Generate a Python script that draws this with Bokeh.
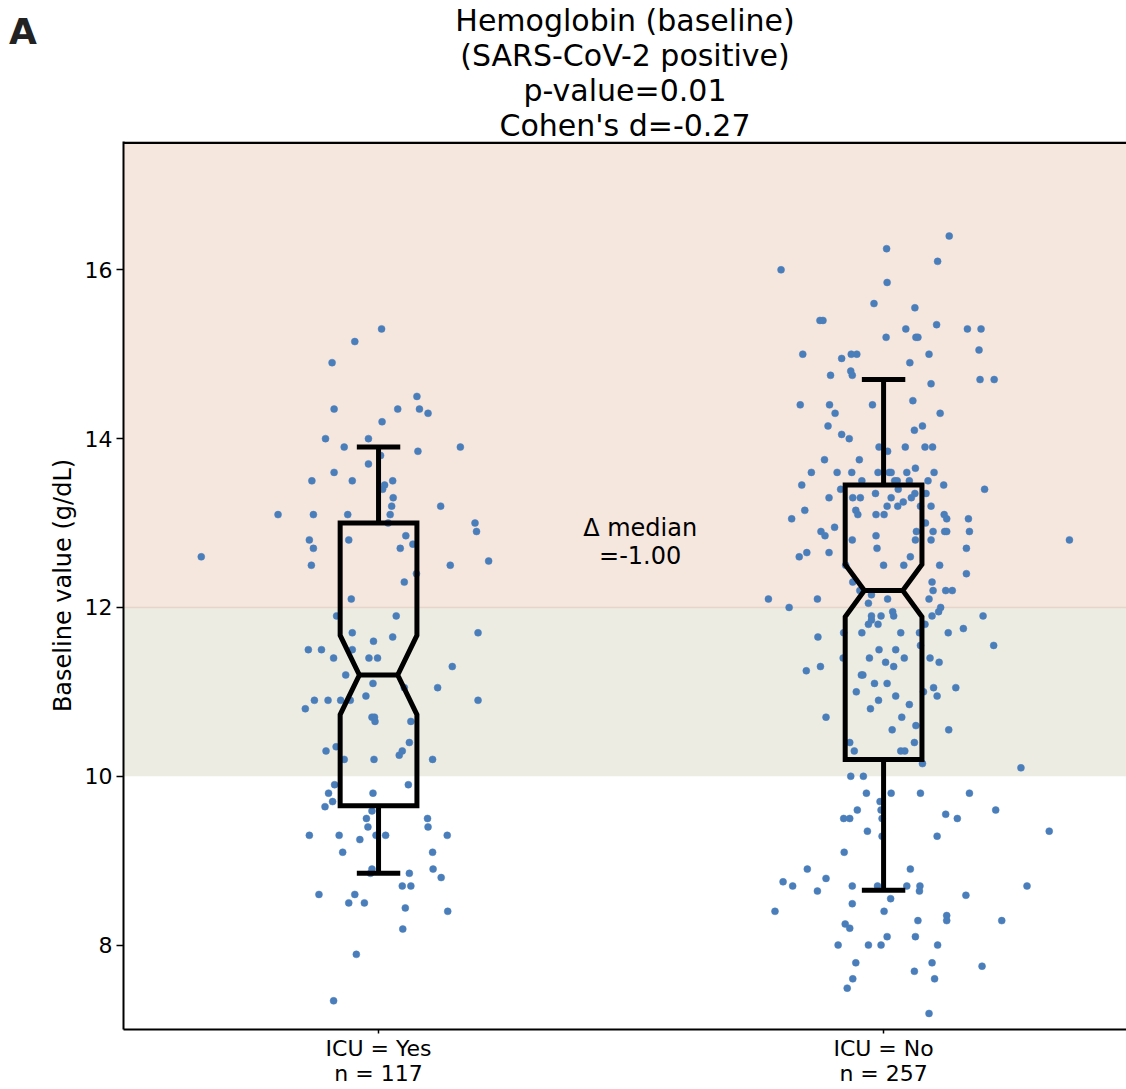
from bokeh.plotting import figure
from bokeh.layouts import row
from bokeh.models import Range1d, FixedTicker, BoxAnnotation, Label, Span, Title, Div
from bokeh.embed import file_html
from bokeh.resources import INLINE

# ---------------- data ----------------
categories = ["ICU = Yes", "ICU = No"]
group_n = [117, 257]
positions = [0, 1]

panel_letter = "A"
title_lines = ["Hemoglobin (baseline)", "(SARS-CoV-2 positive)", "p-value=0.01", "Cohen's d=-0.27"]
y_ticks = [8, 10, 12, 14, 16]

# box statistics (g/dL)
q1 = [9.65, 10.2]
median = [11.2, 12.2]
q3 = [13.0, 13.45]
notch_lo = [10.73, 11.89]
notch_hi = [11.67, 12.51]
whisker_lo = [8.85, 8.65]
whisker_hi = [13.9, 14.7]

# reference bands
band_high_low = 12.0
band_mid_low = 10.0

# jittered observations: value and horizontal jitter (category units)
yes_y = [15.30, 15.15, 14.90, 14.50, 14.35, 14.35, 14.35, 14.30, 14.20, 14.00,
         14.00, 13.90, 13.90, 13.80, 13.85, 13.70, 13.60, 13.50, 13.50, 13.50,
         13.45, 13.40, 13.30, 13.20, 13.20, 13.10, 13.10, 13.10, 13.10, 13.00,
         13.00, 12.90, 12.80, 12.80, 12.85, 12.70, 12.70, 12.75, 12.60, 12.55,
         12.50, 12.50, 12.40, 12.30, 12.10, 11.90, 11.90, 11.70, 11.70, 11.65,
         11.60, 11.50, 11.50, 11.50, 11.40, 11.40, 11.40, 11.30, 11.20, 11.10,
         11.05, 11.05, 10.95, 10.90, 10.90, 10.90, 10.90, 10.90, 10.80, 10.70,
         10.70, 10.65, 10.65, 10.40, 10.35, 10.30, 10.30, 10.25, 10.20, 10.20,
         10.20, 9.90, 9.90, 9.80, 9.80,
         9.70, 9.64, 9.59, 9.50, 9.50, 9.40, 9.40, 9.30, 9.30, 9.30,
         9.30, 9.30, 9.25, 9.10, 9.10, 8.90, 8.85, 8.90, 8.80, 8.70,
         8.70, 8.60, 8.60, 8.50, 8.50, 8.44, 8.40, 8.19, 7.89, 7.34, 8.85]
yes_dx = [0.006, -0.047, -0.092, 0.076, -0.088, 0.038, 0.081, 0.098, 0.007, -0.105,
          -0.020, -0.068, 0.162, 0.004, 0.078, -0.020, -0.088, -0.132, -0.052, 0.028,
          0.012, 0.008, 0.029, 0.026, 0.123, -0.199, -0.129, -0.061, 0.023, 0.019,
          0.191, 0.194, -0.137, -0.059, 0.054, -0.129, 0.043, 0.068, -0.351, 0.218,
          -0.133, 0.142, 0.075, 0.051, -0.054, -0.083, 0.035, 0.197, -0.052, 0.028,
          -0.010, -0.139, -0.113, -0.052, -0.089, -0.019, -0.002, 0.146, -0.065, -0.011,
          0.051, 0.117, -0.025, -0.127, -0.100, -0.075, -0.056, 0.197, -0.145, -0.013,
          -0.008, -0.007, 0.064, 0.061, -0.084, -0.104, 0.047, 0.041, -0.068, -0.009,
          0.107, -0.087, 0.059, -0.099, -0.011,
          -0.091, -0.106, -0.013, -0.024, 0.097, -0.021, 0.098, -0.137, -0.078, -0.005,
          0.014, 0.136, -0.037, -0.071, 0.107, -0.013, 0.061, 0.108, 0.124, 0.047,
          0.064, -0.118, -0.047, -0.059, -0.028, 0.053, 0.137, 0.048, -0.044, -0.089, -0.016]

no_y = [16.40, 16.25, 16.10, 16.00, 15.85, 15.60, 15.55, 15.40, 15.40, 15.35,
        15.30, 15.30, 15.30, 15.20, 15.20, 15.20, 15.05, 15.00, 14.95, 15.00,
        15.00, 15.00, 14.90, 14.80, 14.75, 14.75, 14.65, 14.70, 14.70, 14.40,
        14.40, 14.40, 14.45, 14.30, 14.30,
        14.15, 14.10, 14.15, 14.05, 14.00, 13.90, 13.85, 13.90, 13.90, 13.90,
        13.75, 13.75, 13.60, 13.60, 13.60, 13.60, 13.60, 13.60, 13.60, 13.65,
        13.60, 13.45, 13.50, 13.50, 13.50, 13.50, 13.50, 13.45, 13.40, 13.40,
        13.40, 13.35, 13.35, 13.35, 13.30, 13.30, 13.30, 13.30, 13.30, 13.25,
        13.15, 13.15, 13.10, 13.10, 13.10, 13.20, 13.20, 13.20, 13.20, 13.05,
        13.10, 13.05, 13.05, 13.00, 12.90, 12.85, 12.95, 12.90, 12.90, 12.90,
        12.90, 12.90, 12.80, 12.85, 12.80, 12.80, 12.80, 12.70, 12.70, 12.60,
        12.65, 12.65, 12.60, 12.50, 12.50, 12.50, 12.50, 12.40, 12.30, 12.30,
        12.20, 12.15, 12.20, 12.20, 12.20, 12.10, 12.10, 12.10, 12.10,
        12.05, 12.00, 12.00, 11.95, 11.95, 11.90, 11.90, 11.90, 11.90, 11.90,
        11.85, 11.80, 11.80, 11.80, 11.75, 11.65, 11.70, 11.70, 11.70, 11.70,
        11.70, 11.55, 11.55, 11.50, 11.50, 11.40, 11.40, 11.40, 11.40, 11.35,
        11.35, 11.30, 11.25, 11.30, 11.20, 11.20, 11.10, 11.10, 11.00, 11.05,
        11.05, 11.00, 10.95, 10.95, 10.90, 10.85, 10.80, 10.70, 10.70, 10.60,
        10.55, 10.55, 10.40, 10.40, 10.30, 10.30, 10.30, 10.15, 10.10, 10.00,
        10.00,
        9.80, 9.80, 9.80, 9.80, 9.70, 9.60, 9.60, 9.60, 9.50, 9.50,
        9.50, 9.55, 9.50, 9.35, 9.29, 9.29, 9.35, 9.10, 8.90, 8.90,
        8.79, 8.75, 8.70, 8.64, 8.70, 8.70, 8.70, 8.70, 8.64, 8.70,
        8.55, 8.59, 8.49, 8.40, 8.40, 8.35, 8.29, 8.29, 8.29, 8.25,
        8.20, 8.10, 8.10, 8.00, 8.00, 8.00, 8.00, 7.79, 7.79, 7.75,
        7.69, 7.60, 7.60, 7.49, 7.19]
no_dx = [0.130, 0.006, 0.107, -0.203, 0.007, -0.019, 0.062, -0.126, -0.120, 0.105,
         0.044, 0.166, 0.193, 0.005, 0.064, 0.068, 0.189, -0.160, -0.083, -0.064,
         -0.053, 0.090, 0.052, -0.065, -0.062, -0.105, 0.094, 0.191, 0.219, -0.165,
         -0.107, -0.022, 0.058, -0.096, 0.112,
         -0.110, 0.061, 0.077, -0.083, -0.068, -0.009, 0.008, 0.043, 0.082, 0.097,
         -0.117, -0.048, -0.143, -0.092, -0.063, -0.011, 0.011, 0.015, 0.046, 0.063,
         0.100, -0.162, -0.043, 0.022, 0.027, 0.051, 0.088, 0.119, 0.200, -0.085,
         0.029, -0.016, 0.062, 0.084, -0.108, -0.061, -0.046, 0.015, 0.055, 0.039,
         -0.156, -0.055, -0.051, -0.015, 0.001, 0.007, 0.028, 0.073, 0.094, -0.182,
         0.120, 0.125, 0.168, 0.083, -0.124, -0.116, -0.097, 0.065, 0.098, 0.121,
         0.125, 0.170, -0.062, -0.015, 0.063, 0.094, 0.368, -0.013, 0.164, -0.167,
         -0.152, -0.108, 0.053, -0.075, 0.000, 0.040, 0.111, 0.164, -0.061, 0.096,
         -0.047, -0.024, 0.098, 0.123, 0.136, -0.228, -0.131, 0.008, 0.090,
         -0.030, -0.187, 0.113, 0.109, 0.018, -0.024, -0.005, 0.020, 0.096, 0.197,
         -0.024, -0.030, -0.011, 0.082, 0.158, -0.130, -0.079, -0.043, 0.034, 0.071,
         0.128, 0.218, 0.073, -0.009, 0.024, -0.080, -0.028, 0.041, 0.092, 0.004,
         0.110, 0.020, -0.153, -0.125, -0.044, -0.041, -0.018, 0.007, -0.054, 0.099,
         0.143, 0.079, 0.024, 0.106, -0.010, 0.051, -0.026, -0.114, 0.036, 0.064,
         0.017, 0.129, -0.067, 0.061, -0.058, 0.034, 0.042, 0.077, 0.272, -0.065,
         -0.040,
         -0.034, 0.015, 0.073, 0.170, -0.007, -0.052, -0.005, 0.222, -0.079, -0.067,
         -0.003, 0.123, 0.146, -0.032, -0.003, 0.106, 0.328, -0.078, -0.151, 0.053,
         -0.114, -0.199, -0.180, -0.131, -0.062, -0.012, 0.046, 0.072, 0.071, 0.284,
         0.014, 0.163, -0.062, -0.215, 0.001, 0.125, 0.125, 0.068, 0.234, -0.076,
         -0.067, 0.007, 0.063, -0.090, -0.030, -0.005, 0.107, -0.055, 0.096, 0.195,
         0.061, -0.061, 0.101, -0.072, 0.090]

# ---------------- styles ----------------
FONT = "DejaVu Sans"
POINT_COLOR = "#4a7ebb"
BAND_HIGH = "#f5e6de"
BAND_MID = "#ecece2"
BOX_HALF = 0.076
NOTCH_HALF = 0.038
CAP_HALF = 0.043
LW = 5
H = 1088
LETTER_W = 45
MAIN_W = 1126 - LETTER_W

# ---------------- main figure ----------------
p = figure(width=MAIN_W, height=H, output_backend="svg", toolbar_location=None,
           x_range=Range1d(-0.505, 1.481), y_range=Range1d(7.0, 17.52),
           min_border_left=78, min_border_right=0, min_border_top=141,
           min_border_bottom=55)
p.outline_line_color = None
p.xgrid.visible = False
p.ygrid.visible = False
p.background_fill_color = "white"
p.border_fill_color = "white"

# title lines: added from the one nearest the frame outward
for line in reversed(title_lines):
    p.add_layout(Title(text=line, align="center", text_font=FONT, text_font_size="30px",
                       text_font_style="normal", text_color="black", standoff=-2), "above")

# bands
p.add_layout(BoxAnnotation(bottom=band_high_low, fill_color=BAND_HIGH, fill_alpha=1.0,
                           line_color=None, level="underlay"))
p.add_layout(BoxAnnotation(bottom=band_mid_low, top=band_high_low, fill_color=BAND_MID,
                           fill_alpha=1.0, line_color=None, level="underlay"))
p.add_layout(Span(location=band_high_low, dimension="width", line_color="#e6d6ca",
                  line_width=1.5, level="underlay"))
# top spine
p.add_layout(Span(location=17.505, dimension="width", line_color="black", line_width=2.5))

# points
p.scatter([positions[0] + d for d in yes_dx], yes_y, size=7, fill_color=POINT_COLOR,
          line_color=POINT_COLOR, line_width=0.5)
p.scatter([positions[1] + d for d in no_dx], no_y, size=7, fill_color=POINT_COLOR,
          line_color=POINT_COLOR, line_width=0.5)

# notched boxes
for i, c in enumerate(positions):
    xs = [c - BOX_HALF, c - BOX_HALF, c - NOTCH_HALF, c - BOX_HALF, c - BOX_HALF,
          c + BOX_HALF, c + BOX_HALF, c + NOTCH_HALF, c + BOX_HALF, c + BOX_HALF]
    ys = [q1[i], notch_lo[i], median[i], notch_hi[i], q3[i],
          q3[i], notch_hi[i], median[i], notch_lo[i], q1[i]]
    p.patch(xs, ys, fill_alpha=0, line_color="black", line_width=LW, line_join="miter")
    p.line([c - NOTCH_HALF, c + NOTCH_HALF], [median[i], median[i]], line_color="black",
           line_width=LW)
    p.line([c, c], [q1[i], whisker_lo[i]], line_color="black", line_width=LW)
    p.line([c, c], [q3[i], whisker_hi[i]], line_color="black", line_width=LW)
    p.line([c - CAP_HALF, c + CAP_HALF], [whisker_lo[i], whisker_lo[i]], line_color="black",
           line_width=LW)
    p.line([c - CAP_HALF, c + CAP_HALF], [whisker_hi[i], whisker_hi[i]], line_color="black",
           line_width=LW)

# delta median annotation
delta = median[0] - median[1]
p.add_layout(Label(x=0.518, y=12.94, text="\u0394 median", text_align="center",
                   text_baseline="middle", text_font=FONT, text_font_size="24px",
                   text_color="black"))
p.add_layout(Label(x=0.518, y=12.61, text="=%.2f" % delta, text_align="center",
                   text_baseline="middle", text_font=FONT, text_font_size="24px",
                   text_color="black"))

# axes
p.yaxis.ticker = FixedTicker(ticks=y_ticks)
p.yaxis.axis_label = "Baseline value (g/dL)"
p.yaxis.axis_label_text_font = FONT
p.yaxis.axis_label_text_font_size = "24px"
p.yaxis.axis_label_text_font_style = "normal"
p.yaxis.axis_label_text_color = "black"
p.yaxis.axis_label_standoff = 5
p.xaxis.ticker = FixedTicker(ticks=positions)
p.xaxis.major_label_overrides = {pos: "%s\nn = %d" % (cat, n)
                                 for pos, cat, n in zip(positions, categories, group_n)}
p.xaxis.major_label_text_line_height = 1.0
for ax in (p.xaxis, p.yaxis):
    ax.major_label_text_font = FONT
    ax.major_label_text_font_size = "22px"
    ax.major_label_text_color = "black"
    ax.axis_line_width = 2
    ax.axis_line_color = "black"
    ax.major_tick_line_width = 1.5
    ax.major_tick_in = 0
    ax.minor_tick_line_color = None
p.yaxis.major_tick_out = 7
p.yaxis.major_label_standoff = 4
p.xaxis.major_tick_out = 4
p.xaxis.major_label_standoff = 2

# ---------------- panel letter ----------------
letter = Div(text=panel_letter, width=LETTER_W, height=H, margin=0,
             styles={"font-family": FONT, "font-size": "36px", "font-weight": "bold",
                     "color": "#222222", "line-height": "36px", "padding-top": "14px",
                     "padding-left": "9px", "box-sizing": "border-box"})

open("out.html", "w").write(file_html(row(letter, p), INLINE))
